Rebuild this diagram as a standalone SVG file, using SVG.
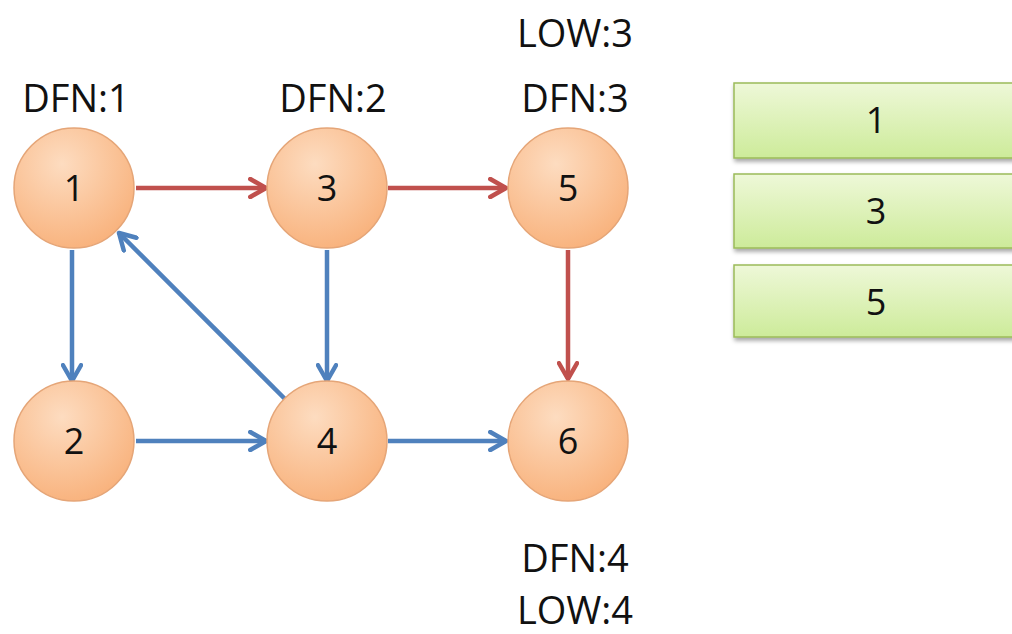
<svg xmlns="http://www.w3.org/2000/svg" width="1012" height="634" viewBox="0 0 1012 634">
<defs>
<radialGradient id="og" cx="0.4" cy="0.3" r="0.8">
<stop offset="0" stop-color="#FDDCC0"/>
<stop offset="1" stop-color="#F8AE76"/>
</radialGradient>
<linearGradient id="gg" x1="0" y1="0" x2="0" y2="1">
<stop offset="0" stop-color="#EEF8D8"/>
<stop offset="1" stop-color="#CDEB9A"/>
</linearGradient>
<filter id="sh" x="-10%" y="-10%" width="130%" height="140%">
<feDropShadow dx="1" dy="3" stdDeviation="2" flood-color="#000" flood-opacity="0.35"/>
</filter>
<marker id="ar" viewBox="0 0 10 10" refX="8" refY="5" markerWidth="5" markerHeight="5" orient="auto" markerUnits="strokeWidth">
<path d="M1,1 L8,5 L1,9" fill="none" stroke="#C0504D" stroke-width="2" stroke-linecap="round" stroke-linejoin="round"/>
</marker>
<marker id="ab" viewBox="0 0 10 10" refX="8" refY="5" markerWidth="5" markerHeight="5" orient="auto" markerUnits="strokeWidth">
<path d="M1,1 L8,5 L1,9" fill="none" stroke="#4F81BD" stroke-width="2" stroke-linecap="round" stroke-linejoin="round"/>
</marker>
</defs>
<style>
.c{fill:url(#og);stroke:#E5A577;stroke-width:1.5}
.b{fill:url(#gg);stroke:#9BBB59;stroke-width:1.5}
.t{font-family:"Open Sans","Liberation Sans",sans-serif;font-size:36px;fill:#111;text-anchor:middle}
.l{font-family:"Open Sans","Liberation Sans",sans-serif;font-size:38px;fill:#111;text-anchor:middle}
.r{stroke:#C0504D;stroke-width:4.5;fill:none}
.bl{stroke:#4F81BD;stroke-width:4.5;fill:none}
</style>
<rect width="1012" height="634" fill="#fff"/>
<g id="connectors">
<line class="r" x1="136" y1="188" x2="266" y2="188" marker-end="url(#ar)"/>
<line class="r" x1="388" y1="188" x2="506" y2="188" marker-end="url(#ar)"/>
<line class="r" x1="568" y1="250" x2="568" y2="379" marker-end="url(#ar)"/>
<line class="bl" x1="72" y1="250" x2="72" y2="381" marker-end="url(#ab)"/>
<line class="bl" x1="327" y1="250" x2="327" y2="381" marker-end="url(#ab)"/>
<line class="bl" x1="136" y1="441" x2="266" y2="441" marker-end="url(#ab)"/>
<line class="bl" x1="388" y1="441" x2="506" y2="441" marker-end="url(#ab)"/>
<line class="bl" x1="290" y1="404" x2="119" y2="233" marker-end="url(#ab)"/>
</g>
<g id="node1"><circle class="c" cx="74" cy="188" r="60"/><text class="t" x="74" y="201">1</text></g>
<g id="node3"><circle class="c" cx="327" cy="188" r="60"/><text class="t" x="327" y="201">3</text></g>
<g id="node5"><circle class="c" cx="568" cy="188" r="60"/><text class="t" x="568" y="201">5</text></g>
<g id="node2"><circle class="c" cx="74" cy="441" r="60"/><text class="t" x="74" y="454">2</text></g>
<g id="node4"><circle class="c" cx="327" cy="441" r="60"/><text class="t" x="327" y="454">4</text></g>
<g id="node6"><circle class="c" cx="568" cy="441" r="60"/><text class="t" x="568" y="454">6</text></g>
<g id="labels">
<text class="l" x="76" y="112">DFN:1</text>
<text class="l" x="333" y="112">DFN:2</text>
<text class="l" x="575" y="47">LOW:3</text>
<text class="l" x="575" y="112">DFN:3</text>
<text class="l" x="575" y="572">DFN:4</text>
<text class="l" x="575" y="624">LOW:4</text>
</g>
<g id="stack">
<g id="s1"><rect class="b" x="734" y="83" width="290" height="75" filter="url(#sh)"/><text class="t" x="876" y="133">1</text></g>
<g id="s3"><rect class="b" x="734" y="174" width="290" height="74" filter="url(#sh)"/><text class="t" x="876" y="224">3</text></g>
<g id="s5"><rect class="b" x="734" y="265" width="290" height="72" filter="url(#sh)"/><text class="t" x="876" y="315">5</text></g>
</g>
</svg>
